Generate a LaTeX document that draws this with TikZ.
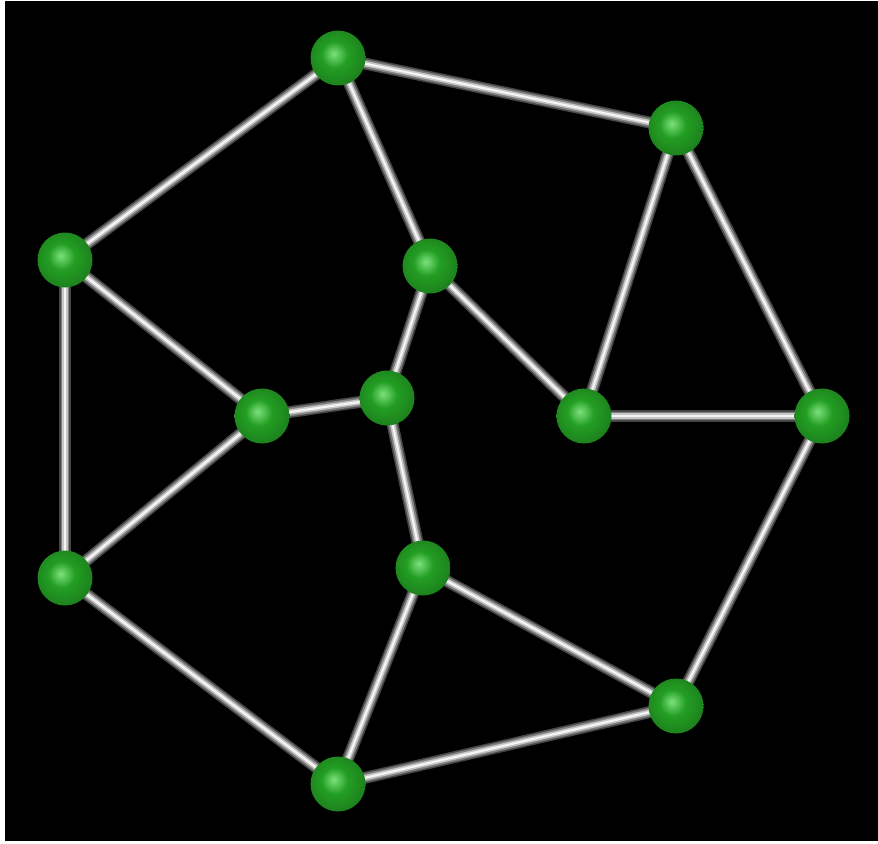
\documentclass[tikz,border=0pt]{standalone}
\pgfdeclarelayer{bg}
\pgfdeclarelayer{tubes}
\pgfsetlayers{bg,tubes,main}
\definecolor{ballhi}{RGB}{125,225,125}
\definecolor{ballmid}{RGB}{35,158,35}
\definecolor{balledge}{RGB}{16,84,16}
\pgfdeclareradialshading{greenball}{\pgfpoint{-4bp}{4bp}}{%
  color(0bp)=(ballhi); color(12bp)=(ballmid); color(30bp)=(ballmid!78!black);
  color(45bp)=(balledge); color(50bp)=(balledge!65!black)}
\tikzset{
  ball/.style={circle,inner sep=0pt,minimum size=1.1cm,shading=greenball},
  tube/.style={line width=6.8pt,draw=gray!55!black,
    postaction={draw=gray,line width=5pt},
    postaction={draw=gray!45,line width=3pt},
    postaction={draw=white!92!gray,line width=1.2pt}}
}

\begin{document}
\begin{tikzpicture}[x=0.02cm,y=-0.02cm]
\begin{pgfonlayer}{bg}
\fill[white] (0,0) rectangle (878,843);
\fill[black] (5,1) rectangle (878,841);
\end{pgfonlayer}
% outer ring
\node[ball] (top) at (338,58) {};
\node[ball] (tr) at (676,128) {};
\node[ball] (lft) at (65,260) {};
\node[ball] (rgt) at (822,416) {};
\node[ball] (bl) at (65,578) {};
\node[ball] (br) at (676,706) {};
\node[ball] (bot) at (338,784) {};
% inner nodes
\node[ball] (iup) at (430,266) {};
\node[ball] (ilft) at (262,416) {};
\node[ball] (mid) at (387,398) {};
\node[ball] (irgt) at (584,416) {};
\node[ball] (ilow) at (423,568) {};
\begin{pgfonlayer}{tubes}
\foreach \a/\b in {top/tr,top/lft,top/iup,tr/irgt,tr/rgt,lft/ilft,lft/bl,
  iup/mid,iup/irgt,ilft/mid,ilft/bl,mid/ilow,irgt/rgt,rgt/br,bl/bot,
  ilow/br,ilow/bot,br/bot}
  \draw[tube] (\a.center) -- (\b.center);
\end{pgfonlayer}
\end{tikzpicture}
\end{document}
